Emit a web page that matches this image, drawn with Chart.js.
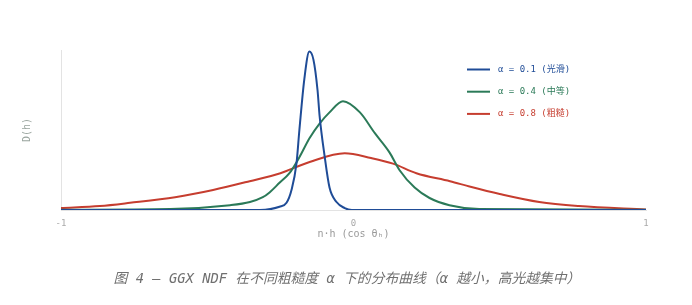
<!DOCTYPE html>
<html>
<head>
<meta charset="utf-8">
<script src="https://cdn.jsdelivr.net/npm/chart.js@4.4.1/dist/chart.umd.min.js"></script>
<style>
  html, body { margin: 0; padding: 0; background: #fff; }
  #wrap { width: 692px; height: 305px; }
</style>
</head>
<body>
<div id="wrap"><canvas id="ndf" width="692" height="305"></canvas></div>
<script>
  "use strict";

  // values (x = n·h, y = D(h) normalised)
  const xTicks = [-1, 0, 1];
  const seriesNames = ["α = 0.1 (光滑)", "α = 0.4 (中等)", "α = 0.8 (粗糙)"];
  const caption = "图 4 — GGX NDF 在不同粗糙度 α 下的分布曲线（α 越小，高光越集中）";

  const blueX = [-1, -0.32, -0.253, -0.229, -0.212, -0.195, -0.185, -0.168, -0.151, -0.137, -0.123, -0.116, -0.099, -0.082, -0.058, -0.03, -0.006, 1];
  const blueY = [0, 0, 0.02, 0.045, 0.125, 0.29, 0.5, 0.82, 0.99, 0.94, 0.75, 0.59, 0.34, 0.14, 0.05, 0.012, 0, 0];

  const greenX = [-1, -0.627, -0.422, -0.354, -0.31, -0.287, -0.253, -0.219, -0.185, -0.15, -0.116, -0.082, -0.036, 0.022, 0.073, 0.123, 0.157, 0.209, 0.26, 0.328, 0.43, 1];
  const greenY = [0.002, 0.006, 0.03, 0.05, 0.08, 0.11, 0.17, 0.23, 0.33, 0.45, 0.54, 0.61, 0.68, 0.61, 0.48, 0.36, 0.25, 0.14, 0.075, 0.03, 0.006, 0.002];

  const redX = [-1, -0.867, -0.764, -0.61, -0.48, -0.355, -0.25, -0.15, -0.03, 0.06, 0.135, 0.215, 0.33, 0.4, 0.5, 0.635, 0.77, 1];
  const redY = [0.0125, 0.025, 0.045, 0.08, 0.125, 0.18, 0.23, 0.3, 0.355, 0.325, 0.29, 0.23, 0.18, 0.145, 0.1, 0.05, 0.025, 0.003];

  const colors = ["#1f4c97", "#2b7a58", "#c63d2f"];
  const MONO = '"DejaVu Sans Mono", "Noto Sans CJK SC", monospace';

  function pts(xs, ys) {
    return xs.map((x, i) => ({ x, y: ys[i] }));
  }

  // legend inside the plot area, text tinted like the line; caption centred on the page
  const overlay = {
    id: "overlay",
    afterDraw(chart) {
      const { ctx, chartArea } = chart;
      const x0 = chartArea.left + 406;
      const y0 = chartArea.top + 19.5;
      ctx.save();
      ctx.font = "9px " + MONO;
      ctx.textBaseline = "middle";
      chart.data.datasets.forEach((ds, i) => {
        const y = y0 + i * 22.2;
        ctx.strokeStyle = ds.borderColor;
        ctx.lineWidth = 2;
        ctx.beginPath();
        ctx.moveTo(x0, y);
        ctx.lineTo(x0 + 23, y);
        ctx.stroke();
        ctx.fillStyle = ds.borderColor;
        ctx.fillText(ds.label, x0 + 31, y);
      });

      ctx.font = "italic 13.8px " + MONO;
      ctx.fillStyle = "#707070";
      ctx.textAlign = "center";
      ctx.fillText(caption, chart.width / 2 + 1, 279);
      ctx.restore();
    },
  };

  const datasets = [blueX, greenX, redX].map((xs, i) => ({
    label: seriesNames[i],
    data: pts(xs, [blueY, greenY, redY][i]),
    borderColor: colors[i],
    backgroundColor: colors[i],
    borderWidth: 2,
    pointRadius: 0,
    cubicInterpolationMode: "monotone",
    fill: false,
  }));

  new Chart(document.getElementById("ndf").getContext("2d"), {
    type: "line",
    data: { datasets },
    plugins: [overlay],
    options: {
      responsive: false,
      animation: false,
      layout: { padding: { top: 50, right: 46, left: 0, bottom: 33 } },
      scales: {
        x: {
          type: "linear",
          min: -1,
          max: 1,
          afterBuildTicks: (s) => { s.ticks = xTicks.map((v) => ({ value: v })); },
          afterFit: (s) => { s.height = 62; },
          grid: { display: false, drawTicks: false },
          border: { color: "#e3e3e3", width: 1 },
          ticks: { color: "#aaa", padding: 8, font: { size: 9, family: MONO }, maxRotation: 0 },
          title: {
            display: true,
            text: "n·h (cos θₕ)",
            color: "#999",
            font: { size: 10, family: MONO },
            padding: { top: 0, bottom: 32 },
          },
        },
        y: {
          min: 0,
          max: 1,
          afterFit: (s) => { s.width = 61; },
          grid: { display: false, drawTicks: false },
          border: { color: "#e3e3e3", width: 1 },
          ticks: { display: false },
          title: {
            display: true,
            text: "D(h)",
            color: "#9aa59f",
            font: { size: 10, family: MONO },
            padding: { top: 21, bottom: 0 },
          },
        },
      },
      plugins: {
        legend: { display: false },
        tooltip: { enabled: false },
        title: { display: false },
      },
    },
  });
</script>
</body>
</html>
